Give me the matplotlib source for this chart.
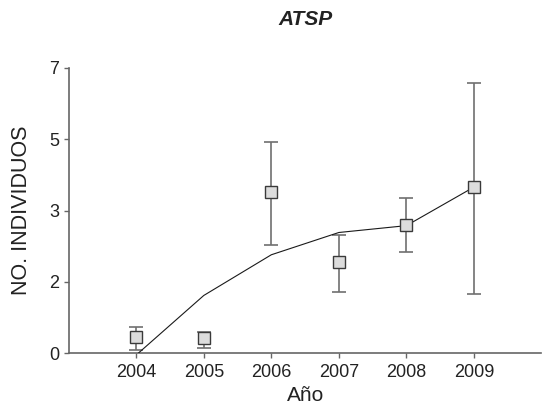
import numpy as np
import matplotlib
matplotlib.use("Agg")
import matplotlib.pyplot as plt
from matplotlib.ticker import FormatStrFormatter

# values
years = [2004, 2005, 2006, 2007, 2008, 2009]
means = [0.37, 0.35, 3.76, 2.14, 3.00, 3.89]
err_low = [0.08, 0.13, 2.52, 1.44, 2.36, 1.39]
err_high = [0.61, 0.49, 4.94, 2.76, 3.62, 6.30]
trend = [-0.04, 1.35, 2.30, 2.82, 2.98, 3.88]
yticks = [0, 5 / 3, 10 / 3, 5, 20 / 3]

plt.rcParams['font.family'] = ['Liberation Sans', 'DejaVu Sans']

means = np.array(means)
yerr = np.array([means - np.array(err_low), np.array(err_high) - means])

fig = plt.figure(figsize=(5.42, 4.13), dpi=100)
ax = fig.add_axes([0.1268, 0.1446, 0.8722, 0.6914])

gray = '#666666'
ax.errorbar(years, means, yerr=yerr, fmt='none', ecolor='#707070',
            elinewidth=1.2, capsize=4.8, capthick=1.2, zorder=2)
ax.plot(years, trend, color='#1a1a1a', lw=0.8, zorder=3)
ax.plot(years, means, ls='none', marker='s', ms=9.2, mfc='#dcdcdc',
        mec='#3a3a3a', mew=1.0, zorder=4)

ax.set_xlim(2003, 2010)
ax.set_ylim(0, 20 / 3)
ax.set_xticks(years)
ax.set_yticks(yticks)
ax.yaxis.set_major_formatter(FormatStrFormatter('%.0f'))

for s in ['top', 'right']:
    ax.spines[s].set_visible(False)
for s in ['left', 'bottom']:
    ax.spines[s].set_color(gray)
    ax.spines[s].set_linewidth(1.2)
ax.tick_params(direction='out', length=3.5, width=1.0, color=gray,
               labelsize=13, labelcolor='#222222')
ax.tick_params(axis='x', pad=4.5)
ax.tick_params(axis='y', pad=3.5)

ax.set_xlabel('Año', fontsize=15, color='#222222', labelpad=3)
ax.set_ylabel('NO. INDIVIDUOS', fontsize=15.5, color='#222222', labelpad=12)
fig.text(0.563, 0.952, 'ATSP', fontsize=15, fontweight='bold',
         fontstyle='italic', ha='center', va='center', color='#222222')

fig.savefig('out.png', dpi=100)
